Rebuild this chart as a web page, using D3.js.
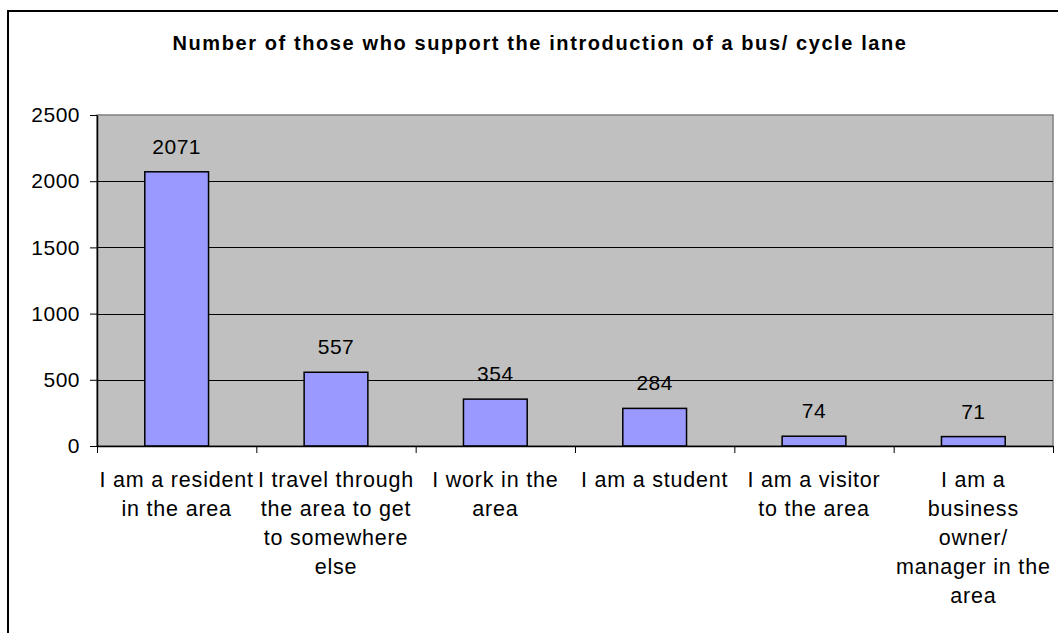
<!DOCTYPE html>
<head>
	<meta charset="utf-8">
	<title>Bus/ cycle lane support</title>
	<script src="https://d3js.org/d3.v7.min.js"></script>
	<style>
		body { margin: 0; background: #fff; }
		text { font-family: "Liberation Sans", Arial, sans-serif; fill: #000; }
		.grid line { stroke: #000; stroke-width: 1; }
		.yaxis .domain, .xaxis .domain { stroke: #000; }
		.yaxis line, .xaxis line { stroke: #000; }
		.bar { fill: #9999ff; stroke: #000; stroke-width: 1.5; }
	</style>
</head>
<body>
	<div id="chart"></div>
	<script>
		// categories and values
		var categories = [
			"I am a resident in the area",
			"I travel through the area to get to somewhere else",
			"I work in the area",
			"I am a student",
			"I am a visitor to the area",
			"I am a business owner/ manager in the area"
		];
		var labelLines = [
			["I am a resident", "in the area"],
			["I travel through", "the area to get", "to somewhere", "else"],
			["I work in the", "area"],
			["I am a student"],
			["I am a visitor", "to the area"],
			["I am a", "business", "owner/", "manager in the", "area"]
		];
		var values = [2071, 557, 354, 284, 74, 71];
		var yTicks = [0, 500, 1000, 1500, 2000, 2500];
		var title = "Number of those who support the introduction of a bus/ cycle lane";

		(function() {
			var width = 1058,
				height = 633;
			var pLeft = 97, pRight = 1053, pTop = 115, pBottom = 446;

			var svg = d3.select("#chart")
				.append("svg")
				.attr("width", width)
				.attr("height", height);

			// outer chart frame (runs off the right and bottom)
			svg.append("rect")
				.attr("x", 8)
				.attr("y", 11)
				.attr("width", 1100)
				.attr("height", 700)
				.attr("fill", "#fff")
				.attr("stroke", "#000")
				.attr("stroke-width", 2);

			svg.append("text")
				.attr("x", 540)
				.attr("y", 50)
				.attr("text-anchor", "middle")
				.attr("font-size", 20)
				.attr("font-weight", "bold")
				.attr("letter-spacing", 1.6)
				.text(title);

			var y = d3.scaleLinear()
				.domain([0, 2500])
				.range([pBottom, pTop]);

			var x = d3.scaleBand()
				.domain(categories)
				.range([pLeft, pRight])
				.paddingInner(0.6)
				.paddingOuter(0.3);

			// plot area
			svg.append("rect")
				.attr("x", pLeft)
				.attr("y", pTop)
				.attr("width", pRight - pLeft)
				.attr("height", pBottom - pTop)
				.attr("fill", "#c0c0c0")
				.attr("stroke", "#808080")
				.attr("stroke-width", 1.5);

			svg.append("g")
				.attr("class", "grid")
				.selectAll("line")
				.data(yTicks.filter(function(d) { return d > 0 && d < 2500; }))
				.enter().append("line")
				.attr("x1", pLeft)
				.attr("x2", pRight)
				.attr("y1", function(d) { return Math.round(y(d)) + 0.5; })
				.attr("y2", function(d) { return Math.round(y(d)) + 0.5; });

			svg.append("g")
				.selectAll("rect")
				.data(values)
				.enter().append("rect")
				.attr("class", "bar")
				.attr("x", function(d, i) { return x(categories[i]); })
				.attr("y", function(d) { return y(d); })
				.attr("width", x.bandwidth())
				.attr("height", function(d) { return pBottom - y(d); });

			svg.append("g")
				.selectAll("text")
				.data(values)
				.enter().append("text")
				.attr("x", function(d, i) { return x(categories[i]) + x.bandwidth() / 2; })
				.attr("y", function(d) { return y(d) - 18; })
				.attr("text-anchor", "middle")
				.attr("font-size", 21)
				.attr("letter-spacing", 0.5)
				.text(function(d) { return d; });

			var yAxis = svg.append("g")
				.attr("class", "yaxis")
				.attr("transform", "translate(" + pLeft + ",0)")
				.call(d3.axisLeft(y).tickValues(yTicks).tickFormat(d3.format("d")).tickSize(7).tickPadding(10).tickSizeOuter(0));
			yAxis.selectAll("text")
				.attr("font-size", 21)
				.attr("letter-spacing", 0.5)
				.attr("font-family", "Liberation Sans, Arial, sans-serif")
				.attr("fill", "#000");
			yAxis.select(".domain").attr("stroke-width", 1.5);

			// category boundary ticks
			var xb = d3.scaleLinear().domain([0, categories.length]).range([pLeft, pRight]);
			var xAxis = svg.append("g")
				.attr("class", "xaxis")
				.attr("transform", "translate(0," + pBottom + ")")
				.call(d3.axisBottom(xb).tickValues(d3.range(categories.length + 1)).tickFormat("").tickSize(7).tickSizeOuter(0));
			xAxis.select(".domain").attr("stroke-width", 1.5);

			var lbl = svg.append("g")
				.selectAll("text")
				.data(labelLines)
				.enter().append("text")
				.attr("text-anchor", "middle")
				.attr("font-size", 21.5)
				.attr("letter-spacing", 0.8)
				.attr("transform", function(d, i) { return "translate(" + (x(categories[i]) + x.bandwidth() / 2) + ",487)"; });
			lbl.selectAll("tspan")
				.data(function(d) { return d; })
				.enter().append("tspan")
				.attr("x", 0)
				.attr("y", function(d, j) { return j * 29; })
				.text(function(d) { return d; });
		})();
	</script>
</body>
